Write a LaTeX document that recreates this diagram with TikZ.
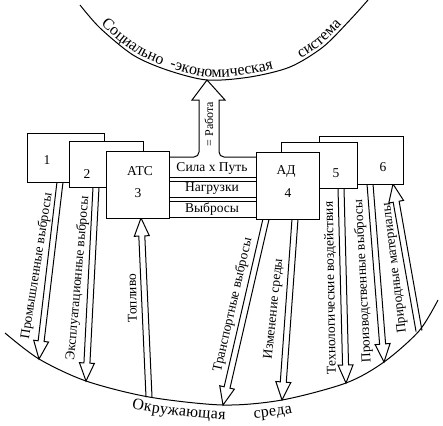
\documentclass[tikz,border=0pt]{standalone}
\usepackage{fontspec}
\setmainfont{Liberation Serif}
\usetikzlibrary{calc,decorations.text}
\newcommand\myarcfont{\fontsize{16}{18}\selectfont}
\newcommand\hollowarr[3][0pt]{%
  \coordinate (ha) at ($(#2)!-#1!(#3)$);
  \coordinate (hb) at (#3);
  \coordinate (hc) at ($(hb)!18pt!(ha)$);
  \draw[harrow] ($(ha)!3pt!90:(hb)$) -- ($(hc)!3pt!-90:(ha)$) -- ($(hc)!7.5pt!-90:(ha)$) -- (hb)
     -- ($(hc)!7.5pt!90:(ha)$) -- ($(hc)!3pt!90:(ha)$) -- ($(ha)!3pt!-90:(hb)$);}
\tikzset{
  box/.style={draw, fill=white, inner sep=0pt, anchor=north west},
  lbl/.style={font=\fontsize{13.5}{15}\selectfont, inner sep=0pt},
  chl/.style={font=\fontsize{13.5}{15}\selectfont, inner sep=0pt},
  harrow/.style={draw, line join=miter},
}
\begin{document}
\begin{tikzpicture}[x=1pt,y=-1pt,line width=1pt]
\useasboundingbox (0,0) rectangle (443,425);

% ---- arcs
\coordinate (tW) at (207,80);
\draw[postaction={decorate, decoration={text along path, text={|\myarcfont|Социально}, text align={left indent=29pt}, raise=3pt}},
      postaction={decorate, decoration={text along path, text={|\myarcfont|-экономическая}, text align={left indent=112pt}, raise=3pt}},
      postaction={decorate, decoration={text along path, text={|\myarcfont|система}, text align={left indent=250pt}, raise=3pt}}]
  plot[smooth] coordinates {(80,5) (100,28) (133,55) (167,70) (tW) (250,77) (290,67) (323,47) (350,20) (368,0)};

\coordinate (t1) at (39,359);
\coordinate (t2) at (86,381);
\coordinate (t3) at (149,397);
\coordinate (t4) at (223,405);
\coordinate (t5) at (282,400);
\coordinate (t6) at (346,383);
\coordinate (t7) at (384,362);
\coordinate (t8) at (419,331);
\draw[postaction={decorate, decoration={text along path, text={|\myarcfont|Окружающая}, text align={left indent=145pt}, raise=-14.5pt}},
      postaction={decorate, decoration={text along path, text={|\myarcfont|среда}, text align={left indent=264pt}, raise=-14.5pt}}]
  plot[smooth] coordinates {(5,333) (t1) (t2) (t3) (t4) (t5) (t6) (t7) (t8) (438,300)};

% ---- start points on boxes
\coordinate (s1) at (60,182);
\coordinate (s2) at (96,187);
\coordinate (s3) at (141,218);
\coordinate (s4) at (266,219);
\coordinate (s5) at (295,219);
\coordinate (s6) at (341,188);
\coordinate (s7) at (370,184);
\coordinate (s8) at (393,184);

\hollowarr[4pt]{s1}{t1}
\hollowarr[4pt]{s2}{t2}
\hollowarr{t3}{s3}
\hollowarr[4pt]{s4}{t4}
\hollowarr[4pt]{s5}{t5}
\hollowarr[4pt]{s6}{t6}
\hollowarr[4pt]{s7}{t7}
\hollowarr{t8}{s8}

% ---- boxes
\node[box, minimum width=77pt, minimum height=49pt] (b1) at (27,133) {};
\node[box, minimum width=74pt, minimum height=46pt] (b2) at (69,141) {};
\node[box, minimum width=63pt, minimum height=67pt] (b3) at (106,151) {};
\node[box, minimum width=84pt, minimum height=48pt] (b6) at (319,136) {};
\node[box, minimum width=76pt, minimum height=46pt] (b5) at (281,142) {};
\node[box, minimum width=63pt, minimum height=67pt] (b4) at (256,152) {};

\node[chl] (n1) at (47,160) {1};
\node[chl] (n2) at (87,174) {2};
\node[chl] (n3a) at (140,171) {АТС};
\node[chl] (n3) at (138,193) {3};
\node[chl] (n4a) at (286,171) {АД};
\node[chl] (n4) at (288,193) {4};
\node[chl] (n5) at (336,173) {5};
\node[chl] (n6) at (383,167) {6};

% ---- channels between ATC and AD
\draw (b3.east |- 0,157) [rounded corners=5pt]-- (199,157) -- (199,112) [sharp corners]-- (199,100) -- (192,100) -- (tW)
   -- (225,100) -- (219,100) -- (219,112) [rounded corners=5pt]-- (219,157) -- (b4.west |- 0,157);
\draw (b3.east |- 0,177) -- (b4.west |- 0,177);
\draw (b3.east |- 0,181) -- (b4.west |- 0,181);
\draw (b3.east |- 0,197) -- (b4.west |- 0,197);
\draw (b3.east |- 0,201) -- (b4.west |- 0,201);
\draw (b3.east |- 0,217) -- (b4.west |- 0,217);
\node[chl] (c1) at (212,168) {Сила х Путь};
\node[chl] (c2) at (212,189) {Нагрузки};
\node[chl] (c3) at (212,209) {Выбросы};
\node[lbl, rotate=90, font=\fontsize{12}{14}\selectfont] (rab) at (209,124) {= Работа};

% ---- arrow labels
\node[lbl, rotate=81] (l1) at (37,266) {Промышленные выбросы};
\node[lbl, rotate=85] (l2) at (78,278) {Эксплуатационные выбросы};
\node[lbl, rotate=91] (l3) at (132,298) {Топливо};
\node[lbl, rotate=77] (l4) at (233,305) {Транспортные выбросы};
\node[lbl, rotate=84] (l5) at (274,309) {Изменение среды};
\node[lbl, rotate=91] (l6) at (331,288) {Технологические воздействия};
\node[lbl, rotate=93] (l7) at (363,281) {Производственные выбросы};
\node[lbl, rotate=97] (l8) at (395,268) {Природные материалы};
\end{tikzpicture}
\end{document}
